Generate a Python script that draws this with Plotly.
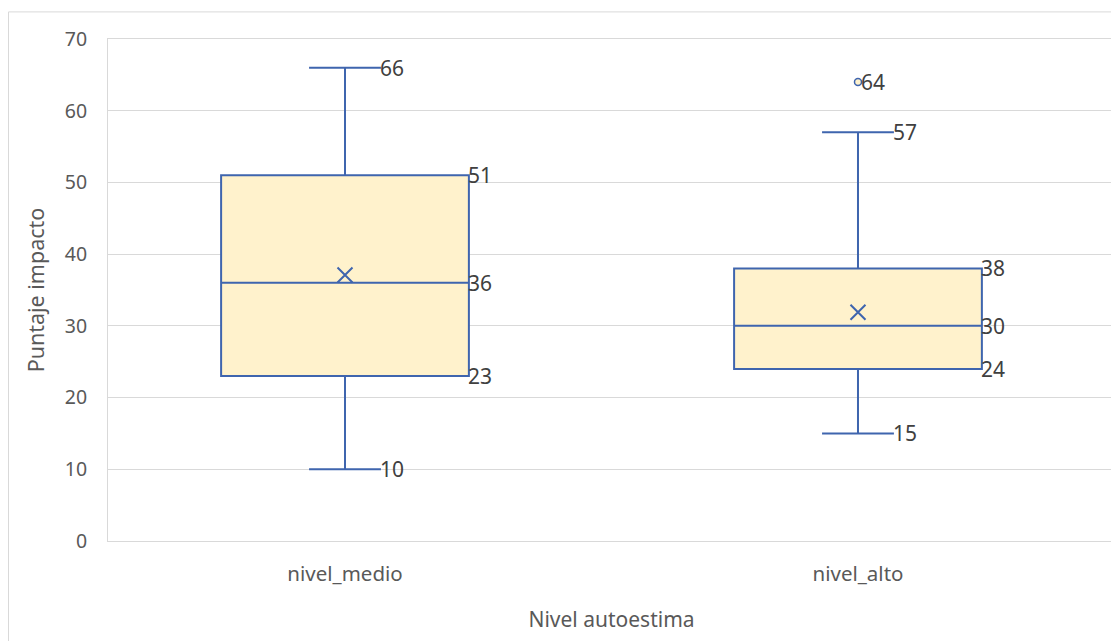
import plotly.graph_objects as go

categories = ["nivel_medio", "nivel_alto"]
lower_whisker = [10, 15]
q1 = [23, 24]
median = [36, 30]
q3 = [51, 38]
upper_whisker = [66, 57]
means = [37.1, 31.9]
outlier_cat = ["nivel_alto"]
outlier_val = [64]

y_ticks = [0, 10, 20, 30, 40, 50, 60, 70]

LINE = "#3F65AE"
FILL = "#FFF2CC"
FONT = "Noto Sans"
TICK_COLOR = "#595959"
LABEL_COLOR = "#404040"

fig = go.Figure()

fig.add_trace(go.Box(
    x=categories,
    q1=q1, median=median, q3=q3,
    lowerfence=lower_whisker, upperfence=upper_whisker,
    width=0.483,
    whiskerwidth=0.29,
    fillcolor=FILL,
    line=dict(color=LINE, width=2),
    boxpoints=False,
    showlegend=False,
    hoverinfo="skip",
))

fig.add_trace(go.Scatter(
    x=categories, y=means, mode="markers",
    marker=dict(symbol="x-thin-open", size=15, color=LINE, line=dict(color=LINE, width=2)),
    showlegend=False, hoverinfo="skip",
))

fig.add_trace(go.Scatter(
    x=outlier_cat, y=outlier_val, mode="markers",
    marker=dict(symbol="circle", size=7, color=FILL, line=dict(color=LINE, width=1.5)),
    showlegend=False, hoverinfo="skip",
))

annotations = []
lab_font = dict(family=FONT, size=21, color=LABEL_COLOR)
for i, c in enumerate(categories):
    for v in (lower_whisker[i], upper_whisker[i]):
        annotations.append(dict(x=c, y=v, xref="x", yref="y", text=str(v), showarrow=False,
                                xanchor="left", yanchor="middle", xshift=33, font=lab_font))
    for v in (q1[i], median[i], q3[i]):
        annotations.append(dict(x=c, y=v, xref="x", yref="y", text=str(v), showarrow=False,
                                xanchor="left", yanchor="middle", xshift=121, font=lab_font))
for c, v in zip(outlier_cat, outlier_val):
    annotations.append(dict(x=c, y=v, xref="x", yref="y", text=str(v), showarrow=False,
                            xanchor="left", yanchor="middle", xshift=1, font=lab_font))

fig.update_layout(
    width=1111, height=633,
    margin=dict(l=100, r=4, t=31, b=100),
    paper_bgcolor="white", plot_bgcolor="white",
    font=dict(family=FONT, size=19, color=TICK_COLOR),
    annotations=annotations,
    shapes=[dict(type="rect", xref="paper", yref="paper", x0=-0.0988, x1=1.02, y0=-0.25, y1=1.054,
                 line=dict(color="#D9D9D9", width=1), fillcolor="rgba(0,0,0,0)", layer="below")],
    xaxis=dict(
        type="category", categoryorder="array", categoryarray=categories,
        range=[-0.462, 1.501], automargin=False,
        showgrid=False, zeroline=False, showline=True, mirror=True,
        linecolor="#D9D9D9", linewidth=1,
        ticks="", ticklabelstandoff=14,
        tickfont=dict(family=FONT, size=20.5, color=TICK_COLOR),
        title=dict(text="Nivel autoestima", standoff=26,
                   font=dict(family=FONT, size=21, color=TICK_COLOR)),
    ),
    yaxis=dict(
        range=[0, 70], tickvals=y_ticks, automargin=False,
        showgrid=True, gridcolor="#D9D9D9", gridwidth=1,
        zeroline=False, showline=True, linecolor="#D9D9D9", linewidth=1,
        ticks="", ticklabelstandoff=16,
        tickfont=dict(family=FONT, size=19.5, color=TICK_COLOR),
        title=dict(text="Puntaje impacto", standoff=14,
                   font=dict(family=FONT, size=21.5, color=TICK_COLOR)),
    ),
)

fig.write_html("out.html")
